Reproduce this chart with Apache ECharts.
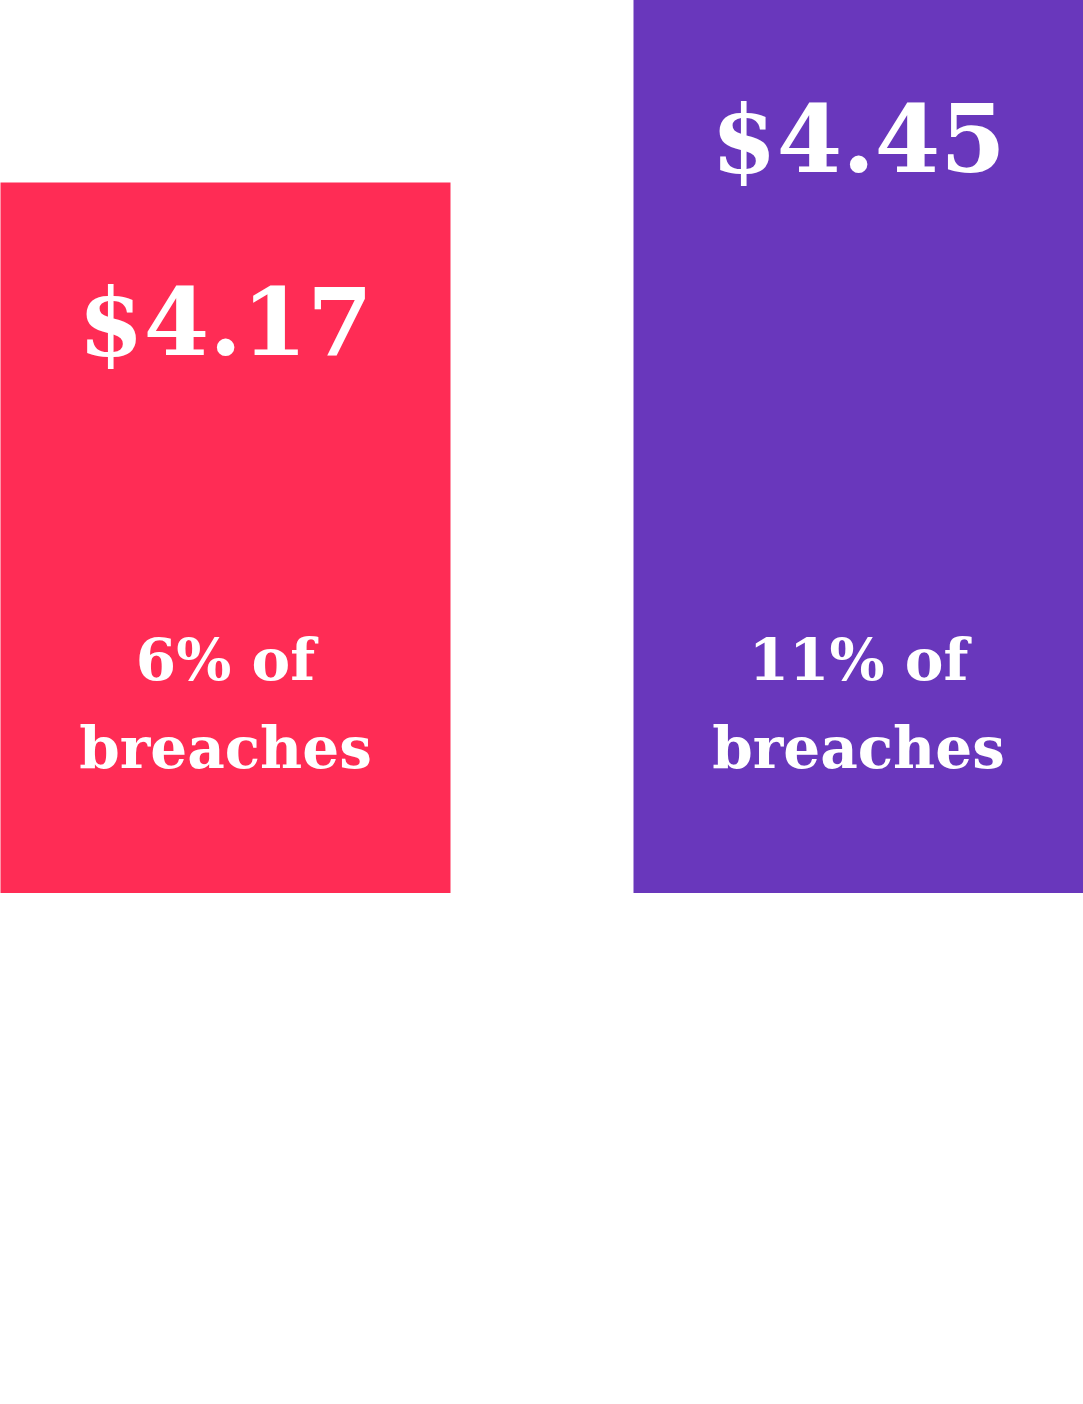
<!DOCTYPE html>
<html>
<head>
<meta charset="utf-8">
<script src="https://cdn.jsdelivr.net/npm/echarts@6/dist/echarts.min.js"></script>
<style>
  html, body { margin: 0; padding: 0; background: #fff; overflow: hidden; width: 1083px; height: 1404px; }
  /* chart is wider than the page so the two bars sit flush with its edges */
  #main { position: absolute; left: -91.5px; top: 0; width: 1266px; height: 1404px; }
</style>
</head>
<body>
<div id="main"></div>
<script>
var categories = ['A', 'B'];
var costs = [4.17, 4.45];
var shares = [6, 11];
var barColors = ['#FF2C55', '#6937BC'];

var myChart = echarts.init(document.getElementById('main'));

var font = '"DejaVu Serif", serif';

var option = {
    animation: false,
    grid: { left: 0, right: 0, top: 0, bottom: 511 },
    xAxis: {
        type: 'category',
        data: categories,
        show: false
    },
    yAxis: {
        type: 'value',
        min: 3.08,
        max: 4.45,
        show: false
    },
    series: [{
        type: 'bar',
        barWidth: 450,
        data: costs.map(function (v, i) {
            return { value: v, itemStyle: { color: barColors[i] } };
        }),
        label: {
            show: true,
            position: 'insideTop',
            distance: 98,
            color: '#fff',
            fontFamily: font,
            fontWeight: 'bold',
            fontSize: 94,
            lineHeight: 100,
            formatter: function (p) { return '$' + p.value.toFixed(2); }
        }
    }, {
        type: 'bar',
        barWidth: 450,
        barGap: '-100%',
        z: 3,
        data: costs,
        itemStyle: { color: 'rgba(0,0,0,0)' },
        label: {
            show: true,
            position: 'insideBottom',
            distance: 96,
            color: '#fff',
            fontFamily: font,
            fontWeight: 'bold',
            fontSize: 58,
            lineHeight: 88,
            align: 'center',
            formatter: function (p) { return shares[p.dataIndex] + '% of\nbreaches'; }
        }
    }]
};

myChart.setOption(option);
</script>
</body>
</html>
